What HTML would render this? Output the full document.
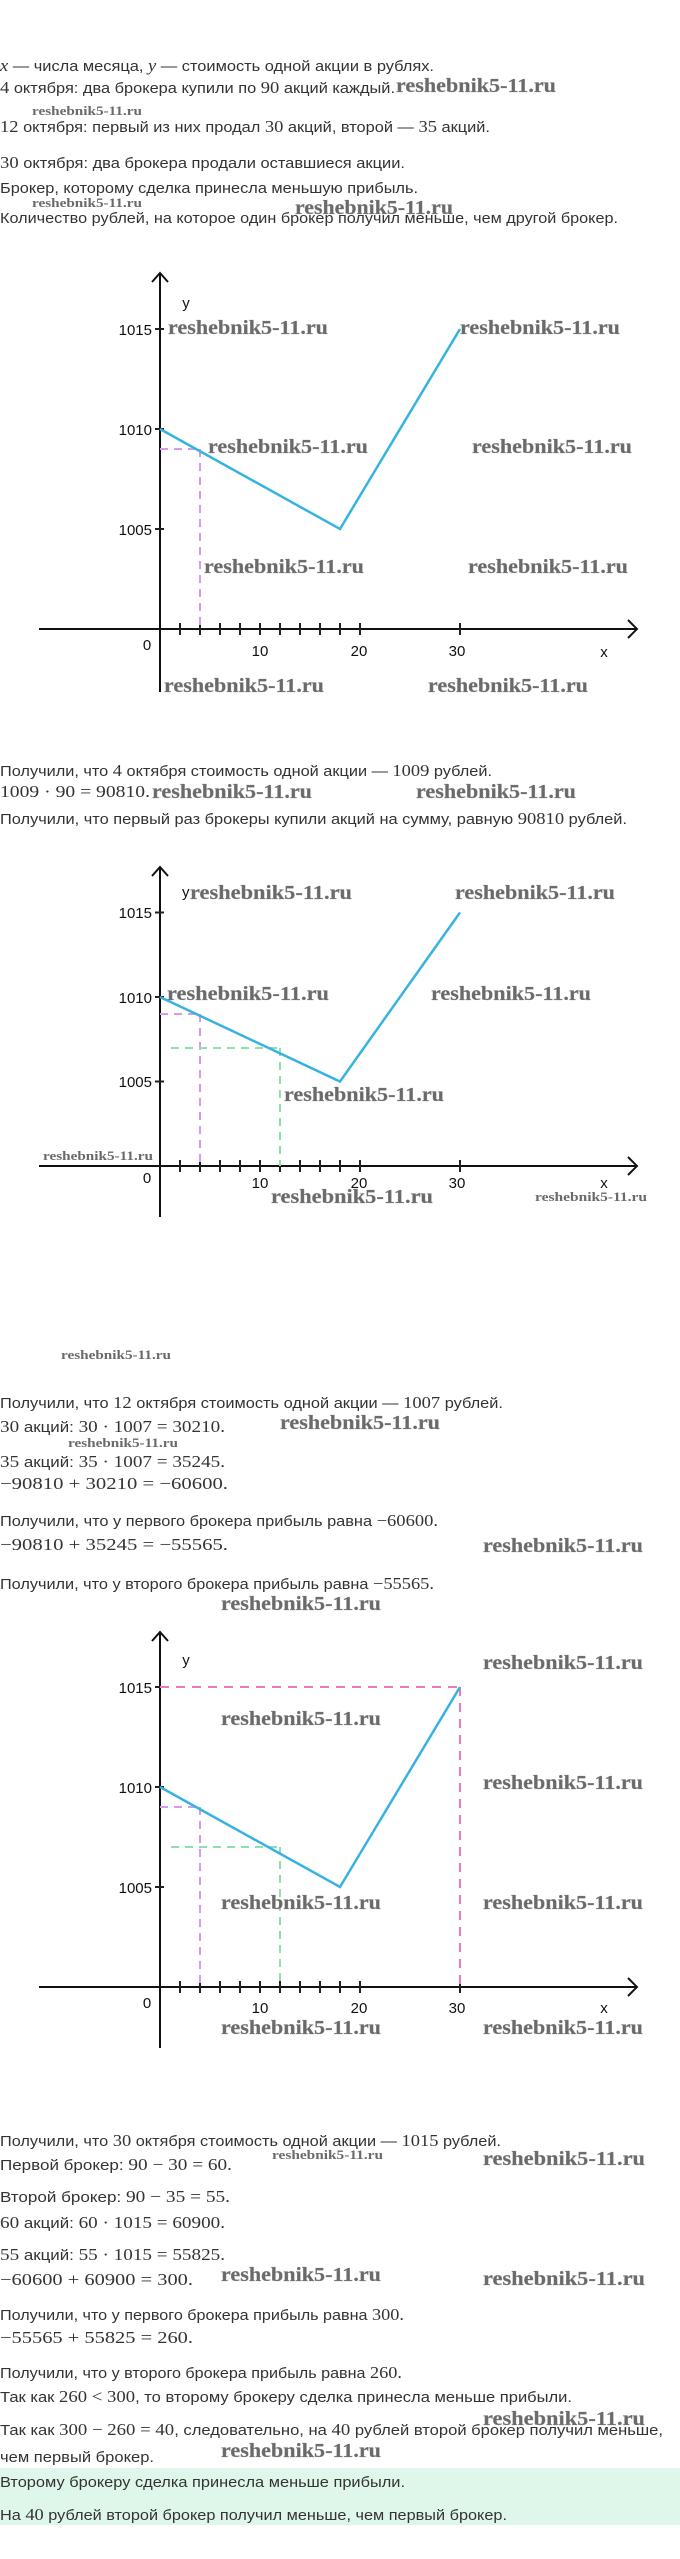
<!DOCTYPE html>
<html><head><meta charset="utf-8"><style>
html,body{margin:0;padding:0;background:#fff;}
svg{display:block;}
.t{font-family:"Liberation Sans","DejaVu Sans",sans-serif;font-size:15px;fill:#333;}
.m{font-family:"Liberation Serif",serif;font-size:17px;}
.w{font-family:"Liberation Serif",serif;font-weight:bold;font-size:20px;fill:#6a6a6a;stroke:#888;stroke-width:0.3;}
.ws{font-family:"Liberation Serif",serif;font-weight:bold;font-size:13px;fill:#6a6a6a;}
.a{font-family:"Liberation Sans",sans-serif;font-size:15px;fill:#111;}
</style></head><body>
<svg width="680" height="2559" viewBox="0 0 680 2559" xmlns="http://www.w3.org/2000/svg">
<rect x="0" y="2468" width="680" height="57" fill="#dff7ea"/>

<!-- top text -->
<text class="t" x="0" y="71" textLength="434" lengthAdjust="spacingAndGlyphs"><tspan class="m" font-style="italic">x</tspan> — числа месяца, <tspan class="m" font-style="italic">y</tspan> — стоимость одной акции в рублях.</text>
<text class="t" x="0" y="93" textLength="395" lengthAdjust="spacingAndGlyphs"><tspan class="m">4</tspan> октября: два брокера купили по <tspan class="m">90</tspan> акций каждый.</text>
<text class="t" x="0" y="132" textLength="490" lengthAdjust="spacingAndGlyphs"><tspan class="m">12</tspan> октября: первый из них продал <tspan class="m">30</tspan> акций, второй — <tspan class="m">35</tspan> акций.</text>
<text class="t" x="0" y="168" textLength="405" lengthAdjust="spacingAndGlyphs"><tspan class="m">30</tspan> октября: два брокера продали оставшиеся акции.</text>
<text class="t" x="0" y="193" textLength="418" lengthAdjust="spacingAndGlyphs">Брокер, которому сделка принесла меньшую прибыль.</text>
<text class="t" x="0" y="223" textLength="618" lengthAdjust="spacingAndGlyphs">Количество рублей, на которое один брокер получил меньше, чем другой брокер.</text>
<text class="w" x="396" y="92" textLength="160" lengthAdjust="spacingAndGlyphs">reshebnik5-11.ru</text>
<text class="ws" x="32" y="115" textLength="110" lengthAdjust="spacingAndGlyphs">reshebnik5-11.ru</text>
<text class="ws" x="32" y="207" textLength="110" lengthAdjust="spacingAndGlyphs">reshebnik5-11.ru</text>
<text class="w" x="295" y="214" textLength="158" lengthAdjust="spacingAndGlyphs">reshebnik5-11.ru</text>

<!-- chart 1 -->
<g>
<line x1="39" y1="629" x2="637" y2="629" stroke="#111" stroke-width="2"/>
<polyline points="628,620 637,629 628,638" fill="none" stroke="#111" stroke-width="2"/>
<line x1="160" y1="273" x2="160" y2="692" stroke="#111" stroke-width="2"/>
<polyline points="152,282 160,273 168,282" fill="none" stroke="#111" stroke-width="2"/>
<path d="M180 623v12M200 623v12M220 623v12M240 623v12M260 623v12M280 623v12M300 623v12M320 623v12M340 623v12M360 623v12M460 623v12M155 329h9M155 429h9M155 529h9" stroke="#222" stroke-width="2"/>
<path d="M160 449H200M200 449V629" stroke="#d79af0" stroke-width="2" stroke-dasharray="8,6" fill="none"/>
<polyline points="160,429 340,529 460,329" fill="none" stroke="#36b3e0" stroke-width="2.5"/>
<text class="a" x="152" y="335" text-anchor="end">1015</text>
<text class="a" x="152" y="435" text-anchor="end">1010</text>
<text class="a" x="152" y="535" text-anchor="end">1005</text>
<text class="a" x="147" y="650" text-anchor="middle">0</text>
<text class="a" x="260" y="656" text-anchor="middle">10</text>
<text class="a" x="359" y="656" text-anchor="middle">20</text>
<text class="a" x="457" y="656" text-anchor="middle">30</text>
<text class="a" x="604" y="657" text-anchor="middle">x</text>
<text class="a" x="186" y="308" text-anchor="middle">y</text>
<text class="w" x="168" y="334" textLength="160" lengthAdjust="spacingAndGlyphs">reshebnik5-11.ru</text>
<text class="w" x="460" y="334" textLength="160" lengthAdjust="spacingAndGlyphs">reshebnik5-11.ru</text>
<text class="w" x="208" y="453" textLength="160" lengthAdjust="spacingAndGlyphs">reshebnik5-11.ru</text>
<text class="w" x="472" y="453" textLength="160" lengthAdjust="spacingAndGlyphs">reshebnik5-11.ru</text>
<text class="w" x="204" y="573" textLength="160" lengthAdjust="spacingAndGlyphs">reshebnik5-11.ru</text>
<text class="w" x="468" y="573" textLength="160" lengthAdjust="spacingAndGlyphs">reshebnik5-11.ru</text>
<text class="w" x="164" y="692" textLength="160" lengthAdjust="spacingAndGlyphs">reshebnik5-11.ru</text>
<text class="w" x="428" y="692" textLength="160" lengthAdjust="spacingAndGlyphs">reshebnik5-11.ru</text>
</g>

<text class="t" x="0" y="776" textLength="492" lengthAdjust="spacingAndGlyphs">Получили, что <tspan class="m">4</tspan> октября стоимость одной акции — <tspan class="m">1009</tspan> рублей.</text>
<text class="t" x="0" y="797" textLength="150" lengthAdjust="spacingAndGlyphs"><tspan class="m">1009 · 90 = 90810.</tspan></text>
<text class="w" x="152" y="798" textLength="160" lengthAdjust="spacingAndGlyphs">reshebnik5-11.ru</text>
<text class="w" x="416" y="798" textLength="160" lengthAdjust="spacingAndGlyphs">reshebnik5-11.ru</text>
<text class="t" x="0" y="824" textLength="627" lengthAdjust="spacingAndGlyphs">Получили, что первый раз брокеры купили акций на сумму, равную <tspan class="m">90810</tspan> рублей.</text>

<!-- chart 2 -->
<g>
<line x1="39" y1="1166" x2="637" y2="1166" stroke="#111" stroke-width="2"/>
<polyline points="628,1157 637,1166 628,1175" fill="none" stroke="#111" stroke-width="2"/>
<line x1="160" y1="867" x2="160" y2="1217" stroke="#111" stroke-width="2"/>
<polyline points="152,876 160,867 168,876" fill="none" stroke="#111" stroke-width="2"/>
<path d="M180 1160v12M200 1160v12M220 1160v12M240 1160v12M260 1160v12M280 1160v12M300 1160v12M320 1160v12M340 1160v12M360 1160v12M460 1160v12M155 912.5h9M155 997h9M155 1081.5h9" stroke="#222" stroke-width="2"/>
<path d="M160 1014H200M200 1014V1166" stroke="#d79af0" stroke-width="2" stroke-dasharray="8,6" fill="none"/>
<path d="M171 1048H280M280 1048V1166" stroke="#8de0b0" stroke-width="2" stroke-dasharray="8,6" fill="none"/>
<polyline points="160,997 340,1081.5 460,912.5" fill="none" stroke="#36b3e0" stroke-width="2.5"/>
<text class="a" x="152" y="918" text-anchor="end">1015</text>
<text class="a" x="152" y="1003" text-anchor="end">1010</text>
<text class="a" x="152" y="1087" text-anchor="end">1005</text>
<text class="a" x="147" y="1183" text-anchor="middle">0</text>
<text class="a" x="260" y="1188" text-anchor="middle">10</text>
<text class="a" x="359" y="1188" text-anchor="middle">20</text>
<text class="a" x="457" y="1188" text-anchor="middle">30</text>
<text class="a" x="604" y="1188" text-anchor="middle">x</text>
<text class="a" x="182" y="897">y</text>
<text class="w" x="190" y="899" textLength="162" lengthAdjust="spacingAndGlyphs">reshebnik5-11.ru</text>
<text class="w" x="455" y="899" textLength="160" lengthAdjust="spacingAndGlyphs">reshebnik5-11.ru</text>
<text class="w" x="167" y="1000" textLength="162" lengthAdjust="spacingAndGlyphs">reshebnik5-11.ru</text>
<text class="w" x="431" y="1000" textLength="160" lengthAdjust="spacingAndGlyphs">reshebnik5-11.ru</text>
<text class="w" x="284" y="1101" textLength="160" lengthAdjust="spacingAndGlyphs">reshebnik5-11.ru</text>
<text class="ws" x="43" y="1160" textLength="110" lengthAdjust="spacingAndGlyphs">reshebnik5-11.ru</text>
<text class="w" x="271" y="1203" textLength="162" lengthAdjust="spacingAndGlyphs">reshebnik5-11.ru</text>
<text class="ws" x="535" y="1201" textLength="112" lengthAdjust="spacingAndGlyphs">reshebnik5-11.ru</text>
</g>

<text class="ws" x="61" y="1359" textLength="110" lengthAdjust="spacingAndGlyphs">reshebnik5-11.ru</text>
<text class="t" x="0" y="1408" textLength="503" lengthAdjust="spacingAndGlyphs">Получили, что <tspan class="m">12</tspan> октября стоимость одной акции — <tspan class="m">1007</tspan> рублей.</text>
<text class="t" x="0" y="1432" textLength="225" lengthAdjust="spacingAndGlyphs"><tspan class="m">30</tspan> акций: <tspan class="m">30 · 1007 = 30210.</tspan></text>
<text class="w" x="280" y="1429" textLength="160" lengthAdjust="spacingAndGlyphs">reshebnik5-11.ru</text>
<text class="ws" x="68" y="1447" textLength="110" lengthAdjust="spacingAndGlyphs">reshebnik5-11.ru</text>
<text class="t" x="0" y="1467" textLength="225" lengthAdjust="spacingAndGlyphs"><tspan class="m">35</tspan> акций: <tspan class="m">35 · 1007 = 35245.</tspan></text>
<text class="t" x="0" y="1489" textLength="228" lengthAdjust="spacingAndGlyphs"><tspan class="m">−90810 + 30210 = −60600.</tspan></text>
<text class="t" x="0" y="1526" textLength="438" lengthAdjust="spacingAndGlyphs">Получили, что у первого брокера прибыль равна <tspan class="m">−60600.</tspan></text>
<text class="t" x="0" y="1550" textLength="228" lengthAdjust="spacingAndGlyphs"><tspan class="m">−90810 + 35245 = −55565.</tspan></text>
<text class="w" x="483" y="1552" textLength="160" lengthAdjust="spacingAndGlyphs">reshebnik5-11.ru</text>
<text class="t" x="0" y="1589" textLength="434" lengthAdjust="spacingAndGlyphs">Получили, что у второго брокера прибыль равна <tspan class="m">−55565.</tspan></text>
<text class="w" x="221" y="1610" textLength="160" lengthAdjust="spacingAndGlyphs">reshebnik5-11.ru</text>

<!-- chart 3 -->
<g>
<line x1="39" y1="1987" x2="637" y2="1987" stroke="#111" stroke-width="2"/>
<polyline points="628,1978 637,1987 628,1996" fill="none" stroke="#111" stroke-width="2"/>
<line x1="160" y1="1632" x2="160" y2="2048" stroke="#111" stroke-width="2"/>
<polyline points="152,1641 160,1632 168,1641" fill="none" stroke="#111" stroke-width="2"/>
<path d="M180 1981v12M200 1981v12M220 1981v12M240 1981v12M260 1981v12M280 1981v12M300 1981v12M320 1981v12M340 1981v12M360 1981v12M460 1981v12M155 1687h9M155 1787h9M155 1887h9" stroke="#222" stroke-width="2"/>
<path d="M160 1807H200M200 1807V1987" stroke="#d79af0" stroke-width="2" stroke-dasharray="8,6" fill="none"/>
<path d="M171 1847H280M280 1847V1987" stroke="#8de0b0" stroke-width="2" stroke-dasharray="8,6" fill="none"/>
<path d="M160 1687H460M460 1687V1987" stroke="#ea79c0" stroke-width="2" stroke-dasharray="9,7" fill="none"/>
<polyline points="160,1787 340,1887 460,1687" fill="none" stroke="#36b3e0" stroke-width="2.5"/>
<text class="a" x="152" y="1693" text-anchor="end">1015</text>
<text class="a" x="152" y="1793" text-anchor="end">1010</text>
<text class="a" x="152" y="1893" text-anchor="end">1005</text>
<text class="a" x="147" y="2008" text-anchor="middle">0</text>
<text class="a" x="260" y="2013" text-anchor="middle">10</text>
<text class="a" x="359" y="2013" text-anchor="middle">20</text>
<text class="a" x="457" y="2013" text-anchor="middle">30</text>
<text class="a" x="604" y="2013" text-anchor="middle">x</text>
<text class="a" x="186" y="1665" text-anchor="middle">y</text>
<text class="w" x="483" y="1669" textLength="160" lengthAdjust="spacingAndGlyphs">reshebnik5-11.ru</text>
<text class="w" x="221" y="1725" textLength="160" lengthAdjust="spacingAndGlyphs">reshebnik5-11.ru</text>
<text class="w" x="483" y="1789" textLength="160" lengthAdjust="spacingAndGlyphs">reshebnik5-11.ru</text>
<text class="w" x="221" y="1909" textLength="160" lengthAdjust="spacingAndGlyphs">reshebnik5-11.ru</text>
<text class="w" x="483" y="1909" textLength="160" lengthAdjust="spacingAndGlyphs">reshebnik5-11.ru</text>
<text class="w" x="221" y="2034" textLength="160" lengthAdjust="spacingAndGlyphs">reshebnik5-11.ru</text>
<text class="w" x="483" y="2034" textLength="160" lengthAdjust="spacingAndGlyphs">reshebnik5-11.ru</text>
</g>

<text class="t" x="0" y="2146" textLength="501" lengthAdjust="spacingAndGlyphs">Получили, что <tspan class="m">30</tspan> октября стоимость одной акции — <tspan class="m">1015</tspan> рублей.</text>
<text class="ws" x="272" y="2159" textLength="111" lengthAdjust="spacingAndGlyphs">reshebnik5-11.ru</text>
<text class="w" x="483" y="2165" textLength="162" lengthAdjust="spacingAndGlyphs">reshebnik5-11.ru</text>
<text class="t" x="0" y="2170" textLength="232" lengthAdjust="spacingAndGlyphs">Первой брокер: <tspan class="m">90 − 30 = 60.</tspan></text>
<text class="t" x="0" y="2202" textLength="230" lengthAdjust="spacingAndGlyphs">Второй брокер: <tspan class="m">90 − 35 = 55.</tspan></text>
<text class="t" x="0" y="2228" textLength="225" lengthAdjust="spacingAndGlyphs"><tspan class="m">60</tspan> акций: <tspan class="m">60 · 1015 = 60900.</tspan></text>
<text class="t" x="0" y="2260" textLength="225" lengthAdjust="spacingAndGlyphs"><tspan class="m">55</tspan> акций: <tspan class="m">55 · 1015 = 55825.</tspan></text>
<text class="t" x="0" y="2285" textLength="193" lengthAdjust="spacingAndGlyphs"><tspan class="m">−60600 + 60900 = 300.</tspan></text>
<text class="w" x="221" y="2281" textLength="160" lengthAdjust="spacingAndGlyphs">reshebnik5-11.ru</text>
<text class="w" x="483" y="2285" textLength="162" lengthAdjust="spacingAndGlyphs">reshebnik5-11.ru</text>
<text class="t" x="0" y="2320" textLength="404" lengthAdjust="spacingAndGlyphs">Получили, что у первого брокера прибыль равна <tspan class="m">300.</tspan></text>
<text class="t" x="0" y="2343" textLength="193" lengthAdjust="spacingAndGlyphs"><tspan class="m">−55565 + 55825 = 260.</tspan></text>
<text class="t" x="0" y="2378" textLength="402" lengthAdjust="spacingAndGlyphs">Получили, что у второго брокера прибыль равна <tspan class="m">260.</tspan></text>
<text class="t" x="0" y="2402" textLength="572" lengthAdjust="spacingAndGlyphs">Так как <tspan class="m">260 &lt; 300</tspan>, то второму брокеру сделка принесла меньше прибыли.</text>
<text class="w" x="483" y="2425" textLength="162" lengthAdjust="spacingAndGlyphs">reshebnik5-11.ru</text>
<text class="t" x="0" y="2435" textLength="663" lengthAdjust="spacingAndGlyphs">Так как <tspan class="m">300 − 260 = 40</tspan>, следовательно, на <tspan class="m">40</tspan> рублей второй брокер получил меньше,</text>
<text class="w" x="221" y="2457" textLength="160" lengthAdjust="spacingAndGlyphs">reshebnik5-11.ru</text>
<text class="t" x="0" y="2462" textLength="154" lengthAdjust="spacingAndGlyphs">чем первый брокер.</text>
<text class="t" x="0" y="2487" textLength="405" lengthAdjust="spacingAndGlyphs">Второму брокеру сделка принесла меньше прибыли.</text>
<text class="t" x="0" y="2520" textLength="507" lengthAdjust="spacingAndGlyphs">На <tspan class="m">40</tspan> рублей второй брокер получил меньше, чем первый брокер.</text>
</svg>
</body></html>
